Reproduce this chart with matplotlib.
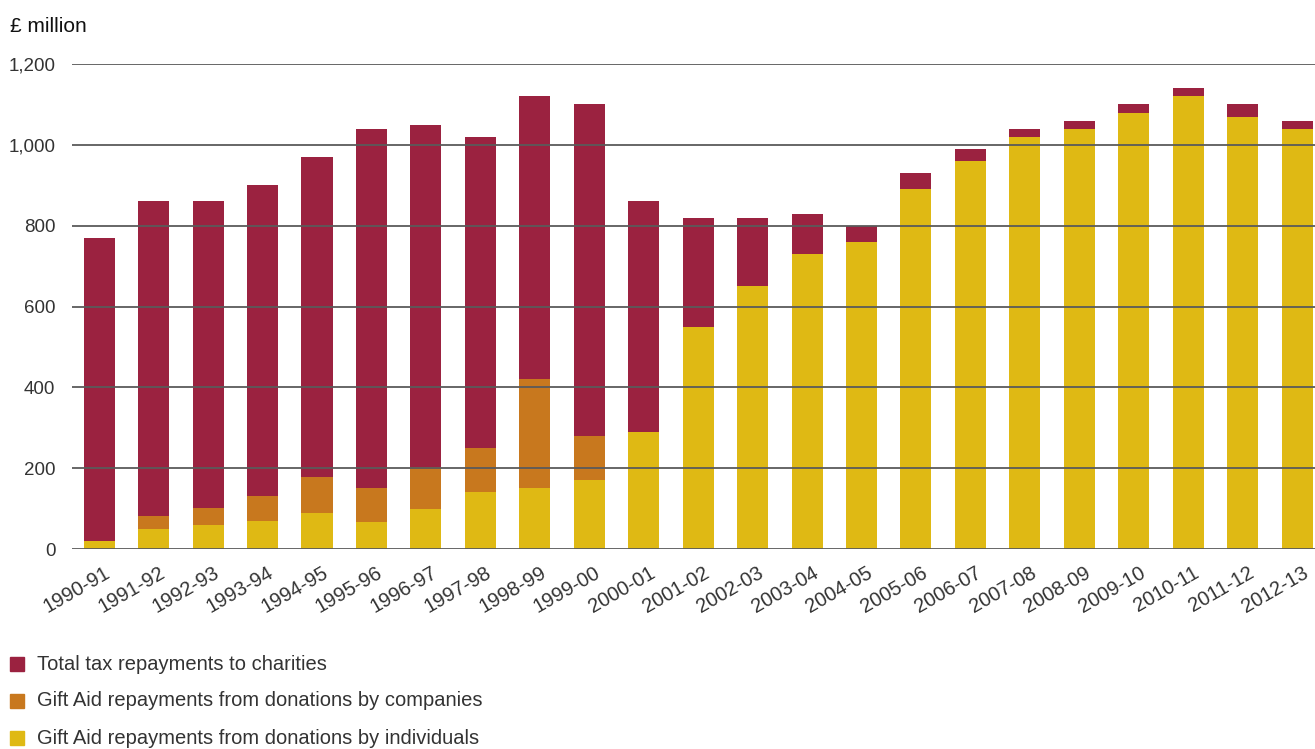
import matplotlib.pyplot as plt
import matplotlib.patches as mpatches
import matplotlib.transforms as mtrans
import numpy as np

years = ["1990-91", "1991-92", "1992-93", "1993-94", "1994-95", "1995-96",
         "1996-97", "1997-98", "1998-99", "1999-00", "2000-01", "2001-02",
         "2002-03", "2003-04", "2004-05", "2005-06", "2006-07", "2007-08",
         "2008-09", "2009-10", "2010-11", "2011-12", "2012-13"]

# £ million
total = [770, 860, 860, 900, 970, 1040, 1050, 1020, 1120, 1100, 860, 820,
         820, 830, 800, 930, 990, 1040, 1060, 1100, 1140, 1100, 1060]
individuals = [20, 50, 60, 70, 88, 68, 100, 140, 150, 170, 290, 550,
               650, 730, 760, 890, 960, 1020, 1040, 1080, 1120, 1070, 1040]
companies = [0, 32, 42, 62, 90, 82, 102, 110, 270, 110, 0, 0,
             0, 0, 0, 0, 0, 0, 0, 0, 0, 0, 0]

red = "#9b2240"
orange = "#c8781e"
yellow = "#dfb914"
text_col = "#333333"

plt.rcParams['font.family'] = ['Liberation Sans', 'DejaVu Sans']

W, H = 1315, 749
fig = plt.figure(figsize=(W / 100, H / 100), dpi=100)
ax = fig.add_axes([72/W, 1 - 549/H, 1 - 72/W, (549 - 64)/H])

x = np.arange(len(years))
ind = np.array(individuals)
comp = np.array(companies)
rest = np.array(total) - ind - comp
w = 0.57

ax.bar(x, ind, w, color=yellow, zorder=1)
ax.bar(x, comp, w, bottom=ind, color=orange, zorder=1)
ax.bar(x, rest, w, bottom=ind + comp, color=red, zorder=1)

ax.set_xlim(-0.5, len(years) - 1 + 0.33)
ax.set_ylim(0, 1200)
ax.set_yticks(range(0, 1201, 200))
ax.set_yticklabels([f"{v:,}" for v in range(0, 1201, 200)])
for v in range(0, 1201, 200):
    ax.axhline(v, color="#5a5a5a", lw=1.3, zorder=3)

ax.set_xticks(x)
ax.set_xticklabels(years, rotation=30, ha="right", rotation_mode="anchor")
ax.tick_params(axis="both", length=0, colors=text_col)
ax.tick_params(axis="y", labelsize=13.5, pad=12)
ax.tick_params(axis="x", labelsize=14.5, pad=10)
# nudge the rotated year labels a little to the right
shift = mtrans.ScaledTranslation(5/100, 0, fig.dpi_scale_trans)
for lab in ax.get_xticklabels():
    lab.set_transform(lab.get_transform() + shift)
for s in ax.spines.values():
    s.set_visible(False)

fig.text(10/W, 1 - 26/H, "£ million", fontsize=15, color="#111111",
         va="center", ha="left")

# legend rows: colour square + label
legend_rows = [(red, "Total tax repayments to charities"),
               (orange, "Gift Aid repayments from donations by companies"),
               (yellow, "Gift Aid repayments from donations by individuals")]
for i, (col, lab) in enumerate(legend_rows):
    yc = 664 + 37 * i
    fig.patches.append(mpatches.Rectangle((10/W, 1 - (yc + 7)/H), 14/W, 14/H,
                                          color=col, transform=fig.transFigure))
    fig.text(37/W, 1 - yc/H, lab, fontsize=14.5, color=text_col,
             va="center", ha="left")

fig.savefig("out.png", dpi=100)
